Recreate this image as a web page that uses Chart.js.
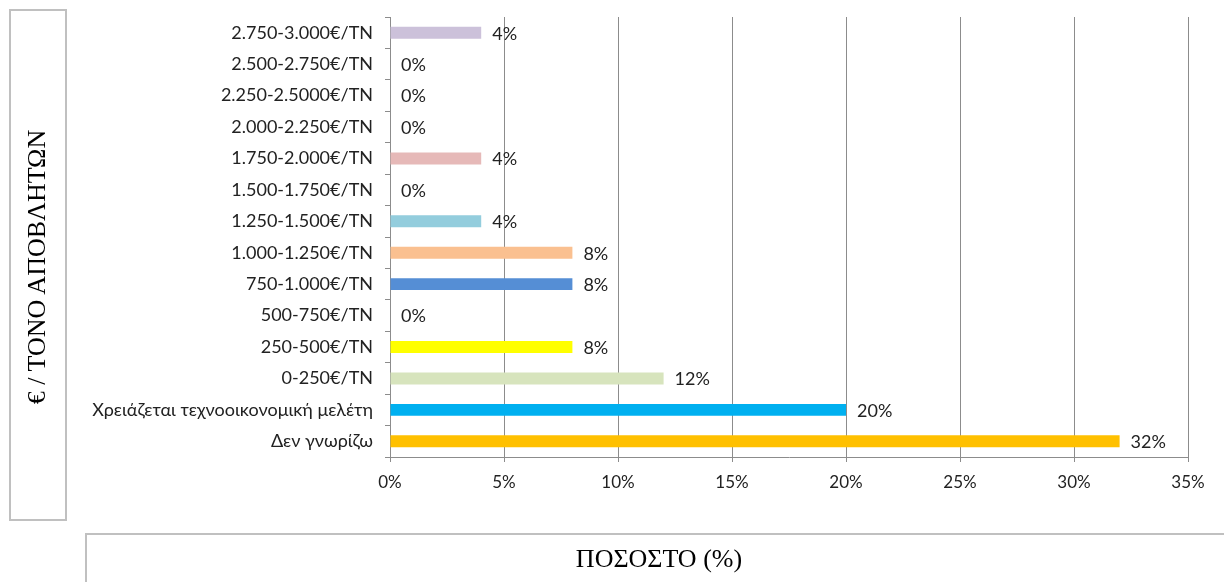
<!DOCTYPE html>
<html>
<head>
<meta charset="utf-8">
<script src="https://cdn.jsdelivr.net/npm/chart.js@4"></script>
<style>
  html, body { margin: 0; padding: 0; background: #fff; }
  #wrap { position: relative; width: 1224px; height: 582px; overflow: hidden; }
  #c { position: absolute; left: 0; top: 0; }
  .box { position: absolute; border: 2px solid #c0c0c0; box-sizing: border-box; background: transparent; }
  #ybox { left: 9px; top: 9px; width: 58px; height: 512px; }
  #xbox { left: 85px; top: 533px; width: 1160px; height: 80px; }
  #ytitle { position: absolute; left: 37px; top: 267px; transform: translate(-50%, -50%) rotate(-90deg);
    font-family: "Liberation Serif", "DejaVu Serif", serif; font-size: 26px; white-space: nowrap; color: #000; }
  #xtitle { position: absolute; left: 659px; top: 559px; transform: translate(-50%, -50%);
    font-family: "Liberation Serif", "DejaVu Serif", serif; font-size: 26px; white-space: nowrap; color: #000; }
</style>
</head>
<body>
<div id="wrap">
  <canvas id="c" width="1224" height="582"></canvas>
  <div class="box" id="ybox"></div>
  <div class="box" id="xbox"></div>
  <div id="ytitle">€ / ΤΟΝΟ ΑΠΟΒΛΗΤΩΝ</div>
  <div id="xtitle">ΠΟΣΟΣΤΟ (%)</div>
</div>
<script>
const categories = [
  "2.750-3.000€/TN",
  "2.500-2.750€/TN",
  "2.250-2.5000€/TN",
  "2.000-2.250€/TN",
  "1.750-2.000€/TN",
  "1.500-1.750€/TN",
  "1.250-1.500€/TN",
  "1.000-1.250€/TN",
  "750-1.000€/TN",
  "500-750€/TN",
  "250-500€/TN",
  "0-250€/TN",
  "Χρειάζεται τεχνοοικονομική μελέτη",
  "Δεν γνωρίζω"
];
const percentages = [4, 0, 0, 0, 4, 0, 4, 8, 8, 0, 8, 12, 20, 32];
const barColors = [
  "#CCC1DA", "#FFFFFF", "#FFFFFF", "#FFFFFF", "#E6B9B8", "#FFFFFF", "#93CDDD",
  "#FAC090", "#558ED5", "#FFFFFF", "#FFFF00", "#D7E4BD", "#00B0F0", "#FFC000"
];
const xTickValues = [0, 5, 10, 15, 20, 25, 30, 35];

const LABEL_FONT = "Lato, 'Open Sans', sans-serif";

const dataLabels = {
  id: 'dataLabels',
  afterDatasetsDraw(chart) {
    const ctx = chart.ctx;
    const meta = chart.getDatasetMeta(0);
    ctx.save();
    ctx.font = "18px " + LABEL_FONT;
    ctx.fillStyle = "#222";
    ctx.textAlign = "left";
    ctx.textBaseline = "middle";
    meta.data.forEach((bar, i) => {
      ctx.fillText(percentages[i] + "%", bar.x + 11, bar.y + 1);
    });
    ctx.restore();
  }
};

new Chart(document.getElementById('c'), {
  type: 'bar',
  data: {
    labels: categories,
    datasets: [{
      data: percentages,
      backgroundColor: barColors,
      borderWidth: 0,
      barPercentage: 0.38,
      categoryPercentage: 1.0
    }]
  },
  options: {
    indexAxis: 'y',
    responsive: false,
    animation: false,
    events: [],
    layout: { padding: { left: 0, right: 36, top: 17, bottom: 0 } },
    plugins: { legend: { display: false }, tooltip: { enabled: false } },
    scales: {
      x: {
        min: 0, max: 35,
        afterBuildTicks(scale) { scale.ticks = xTickValues.map(v => ({ value: v })); },
        afterFit(scale) { scale.height = 125; },
        ticks: {
          callback: v => v + "%",
          font: { family: LABEL_FONT, size: 17 },
          color: "#222",
          padding: 10,
          maxRotation: 0
        },
        grid: { color: "#8c8c8c", lineWidth: 1, tickLength: 5, drawTicks: true },
        border: { color: "#8c8c8c", width: 1 }
      },
      y: {
        afterFit(scale) { scale.width = 390; scale.paddingTop = 0; scale.paddingBottom = 0; },
        ticks: {
          font: { family: LABEL_FONT, size: 18 },
          color: "#222",
          padding: 12,
          autoSkip: false
        },
        grid: { drawOnChartArea: false, drawTicks: true, tickLength: 5, color: "#8c8c8c", offset: true },
        border: { color: "#8c8c8c", width: 1 }
      }
    }
  },
  plugins: [dataLabels]
});
</script>
</body>
</html>
